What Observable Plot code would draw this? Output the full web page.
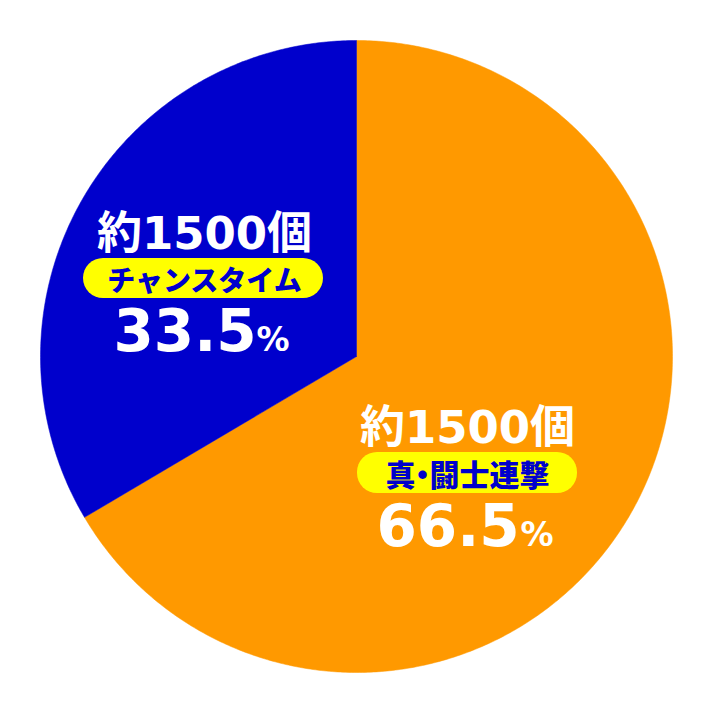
<!DOCTYPE html>
<html>
<head>
<meta charset="utf-8">
<script src="https://cdn.jsdelivr.net/npm/d3@7"></script>
<script src="https://cdn.jsdelivr.net/npm/@observablehq/plot@0.6"></script>
<style>
  html, body { margin: 0; padding: 0; background: #ffffff; }
  #chart { width: 712px; height: 710px; }
</style>
</head>
<body>
<div id="chart"></div>
<script>
// ---- data ----
const categories = ["真・闘士連撃", "チャンスタイム"];
const shares = [66.5, 33.5];           // percent
const counts = ["約1500個", "約1500個"];
const sliceColors = ["#FF9900", "#0000CC"];

// ---- geometry helpers (pie in unit-circle data space) ----
const W = 712, H = 710, CX = 356, CY = 356, R = 316;
const X = px => (px - CX) / R;
const Y = py => (CY - py) / R;

const total = d3.sum(shares);
const wedges = [];
let acc = 0;
categories.forEach((c, i) => {
  const a0 = acc / total * 2 * Math.PI;
  acc += shares[i];
  const a1 = acc / total * 2 * Math.PI;
  wedges.push({category: c, x: 0, y: 0});
  const n = Math.max(2, Math.ceil((a1 - a0) / (Math.PI / 360)));
  for (let k = 0; k <= n; k++) {
    const a = a0 + (a1 - a0) * k / n;
    wedges.push({category: c, x: Math.sin(a), y: Math.cos(a)});
  }
  wedges.push({category: c, x: 0, y: 0});
});

// label layout (pixel positions in the picture)
const layout = [
  {cx: 467, countY: 442, px1: 357, px2: 577, py1: 452, py2: 493, pillTextY: 485, pillSize: 30, pctX: 376, pctY: 545, signX: 520},
  {cx: 204, countY: 248, px1: 83, px2: 323, py1: 258, py2: 298, pillTextY: 290, pillSize: 28, pctX: 113, pctY: 350, signX: 256}
];
const labels = categories.map((c, i) => ({category: c, share: shares[i], count: counts[i], ...layout[i]}));

const numFont = "'DejaVu Sans', 'Noto Sans CJK JP', sans-serif";
const cjkFont = "'Noto Sans CJK JP', 'Noto Sans CJK SC', sans-serif";

const chart = Plot.plot({
  width: W,
  height: H,
  marginLeft: 40,
  marginRight: 40,
  marginTop: 40,
  marginBottom: 38,
  x: {domain: [-1, 1], axis: null},
  y: {domain: [-1, 1], axis: null},
  color: {domain: categories, range: sliceColors},
  style: {background: "#ffffff"},
  marks: [
    Plot.line(wedges, {x: "x", y: "y", z: "category", fill: "category", stroke: "category", strokeWidth: 0.5}),
    Plot.rect(labels, {x1: d => X(d.px1), x2: d => X(d.px2), y1: d => Y(d.py1), y2: d => Y(d.py2), fill: "#FFFF00", rx: 20}),
    Plot.text(labels, {x: d => X(d.cx), y: d => Y(d.countY), text: "count", fill: "#ffffff",
      fontFamily: numFont, fontWeight: "bold", fontSize: 45, lineAnchor: "bottom", textAnchor: "middle"}),
    Plot.text(labels, {x: d => X(d.cx), y: d => Y(d.pillTextY), text: "category", fill: "#0000CC",
      fontFamily: cjkFont, fontWeight: 900, fontSize: d => d.pillSize, lineAnchor: "bottom", textAnchor: "middle"}),
    Plot.text(labels, {x: d => X(d.pctX), y: d => Y(d.pctY), text: d => d.share.toFixed(1), fill: "#ffffff",
      fontFamily: numFont, fontWeight: "bold", fontSize: 58, lineAnchor: "bottom", textAnchor: "start"}),
    Plot.text(labels, {x: d => X(d.signX), y: d => Y(d.pctY), text: d => "%", fill: "#ffffff",
      fontFamily: numFont, fontWeight: "bold", fontSize: 33, lineAnchor: "bottom", textAnchor: "start"})
  ]
});

// tighten the middle dot, as in the original lettering
d3.select(chart).selectAll("text").each(function() {
  const t = this.textContent;
  if (t.includes("・")) {
    const parts = t.split("・");
    const sel = d3.select(this);
    sel.text(null);
    sel.append("tspan").text(parts[0]);
    sel.append("tspan").attr("dx", -8).text("・");
    sel.append("tspan").attr("dx", -8).text(parts.slice(1).join("・"));
  }
});

document.getElementById("chart").appendChild(chart);
</script>
</body>
</html>
